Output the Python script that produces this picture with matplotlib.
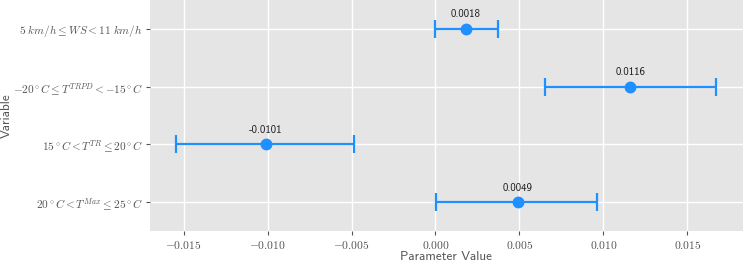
import os
import matplotlib
matplotlib.use("Agg")
import matplotlib.pyplot as plt
from matplotlib.font_manager import FontProperties
import numpy as np

# Estimates and confidence bounds
variables = [
    r"$5\ km/h \leq WS < 11\ km/h$",
    r"$-20^\circ C \leq T^{TRPD} < -15^\circ C$",
    r"$15^\circ C < T^{TR} \leq 20^\circ C$",
    r"$20^\circ C < T^{Max} \leq 25^\circ C$",
]
estimates = [0.0018, 0.0116, -0.0101, 0.0049]
lower = [0.0000, 0.0065, -0.01545, 0.00004]
upper = [0.0037, 0.0167, -0.00483, 0.0096]
labels = ["0.0018", "0.0116", "-0.0101", "0.0049"]
xticks = [-0.015, -0.010, -0.005, 0.000, 0.005, 0.010, 0.015]

plt.rcParams["mathtext.fontset"] = "cm"

# Computer Modern sans shipped with matplotlib
cmss = os.path.join(matplotlib.get_data_path(), "fonts", "ttf", "cmss10.ttf")
fp_ann = FontProperties(fname=cmss, size=7.8)
fp_lab = FontProperties(fname=cmss, size=9.5)

fig = plt.figure(figsize=(7.43, 2.63), dpi=100)
ax = fig.add_axes([150 / 743, 32 / 263, 593 / 743, 231 / 263])
ax.set_facecolor("#E5E5E5")

ypos = np.arange(len(variables))
est = np.array(estimates)
xerr = [est - np.array(lower), np.array(upper) - est]

ax.errorbar(est, ypos, xerr=xerr, fmt="o", color="#1E90FF", ecolor="#1E90FF",
            markersize=7.5, elinewidth=1.6, capsize=6.5, capthick=1.6, zorder=3)

for x, y, lab in zip(estimates, ypos, labels):
    ax.text(x, y - 0.25, lab, ha="center", va="center",
            fontproperties=fp_ann, color="#1A1A1A")

ax.set_xlim(-0.0170, 0.01831)
ax.set_ylim(3.5, -0.5)
ax.set_yticks(ypos)
ax.set_yticklabels(variables, fontsize=8.1, color="#555555")
ax.set_xticks(xticks)
ax.set_xticklabels([r"$%.3f$" % t for t in xticks], fontsize=8.3, color="#555555")

ax.grid(True, color="white", linewidth=1.0)
ax.set_axisbelow(True)
for s in ax.spines.values():
    s.set_visible(False)
ax.tick_params(axis="both", length=3, color="#555555", width=0.8, pad=2)
ax.tick_params(axis="x", pad=3)

xl = ax.set_xlabel("Parameter Value", fontproperties=fp_lab, color="#555555")
yl = ax.set_ylabel("Variable", fontproperties=fp_lab, color="#555555")
xl.set_va("baseline")
yl.set_va("center")
yl.set_ha("center")
ax.xaxis.set_label_coords(296 / 593, -29 / 231)
ax.yaxis.set_label_coords(-143 / 593, 0.5)

fig.savefig("out.png", dpi=100)
